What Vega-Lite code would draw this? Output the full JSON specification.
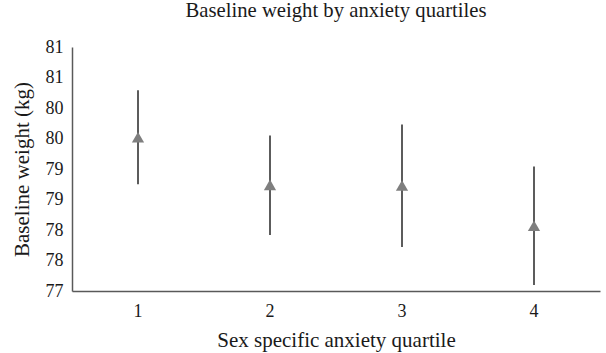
{
  "$schema": "https://vega.github.io/schema/vega-lite/v6.json",
  "width": 528,
  "height": 244,
  "autosize": "none",
  "padding": {"left": 72, "top": 47, "right": 6, "bottom": 62},
  "background": "white",
  "title": {
    "text": "Baseline weight by anxiety quartiles",
    "font": "Liberation Serif",
    "fontSize": 20.7,
    "fontWeight": "normal",
    "color": "#1a1a1a",
    "offset": 16,
    "anchor": "middle"
  },
  "data": {
    "values": [
      {"quartile": "1", "mean": 79.52, "lo": 78.75, "hi": 80.29},
      {"quartile": "2", "mean": 78.74, "lo": 77.92, "hi": 79.55},
      {"quartile": "3", "mean": 78.73, "lo": 77.72, "hi": 79.73},
      {"quartile": "4", "mean": 78.07, "lo": 77.10, "hi": 79.04}
    ]
  },
  "config": {
    "view": {"stroke": null},
    "axis": {
      "labelFont": "Liberation Serif",
      "titleFont": "Liberation Serif",
      "labelFontSize": 18,
      "titleFontSize": 21,
      "titleFontWeight": "normal",
      "labelColor": "#1a1a1a",
      "titleColor": "#1a1a1a",
      "domainColor": "#595959",
      "domainWidth": 1.5,
      "ticks": false,
      "grid": false,
      "labelOverlap": false
    }
  },
  "encoding": {
    "x": {
      "field": "quartile",
      "type": "ordinal",
      "scale": {"paddingInner": 0, "paddingOuter": 0},
      "axis": {
        "title": "Sex specific anxiety quartile",
        "labelAngle": 0,
        "labelPadding": 11,
        "titlePadding": 9
      }
    }
  },
  "layer": [
    {
      "mark": {"type": "rule", "color": "#262626", "strokeWidth": 1.5},
      "encoding": {
        "y": {
          "field": "lo",
          "type": "quantitative",
          "scale": {"domain": [77, 81], "nice": false, "zero": false},
          "axis": {
            "title": "Baseline weight (kg)",
            "values": [77, 77.5, 78, 78.5, 79, 79.5, 80, 80.5, 81],
            "labelExpr": "format(datum.value, '.0f')",
            "labelPadding": 9,
            "titlePadding": 13,
            "labelOverlap": false
          }
        },
        "y2": {"field": "hi"}
      }
    },
    {
      "mark": {"type": "point", "shape": "triangle-up", "filled": true, "color": "#7f7f7f", "opacity": 1, "size": 150},
      "encoding": {
        "y": {
          "field": "mean",
          "type": "quantitative",
          "axis": {
            "title": "Baseline weight (kg)",
            "values": [77, 77.5, 78, 78.5, 79, 79.5, 80, 80.5, 81],
            "labelExpr": "format(datum.value, '.0f')",
            "labelPadding": 9,
            "titlePadding": 13,
            "labelOverlap": false
          }
        }
      }
    }
  ]
}
